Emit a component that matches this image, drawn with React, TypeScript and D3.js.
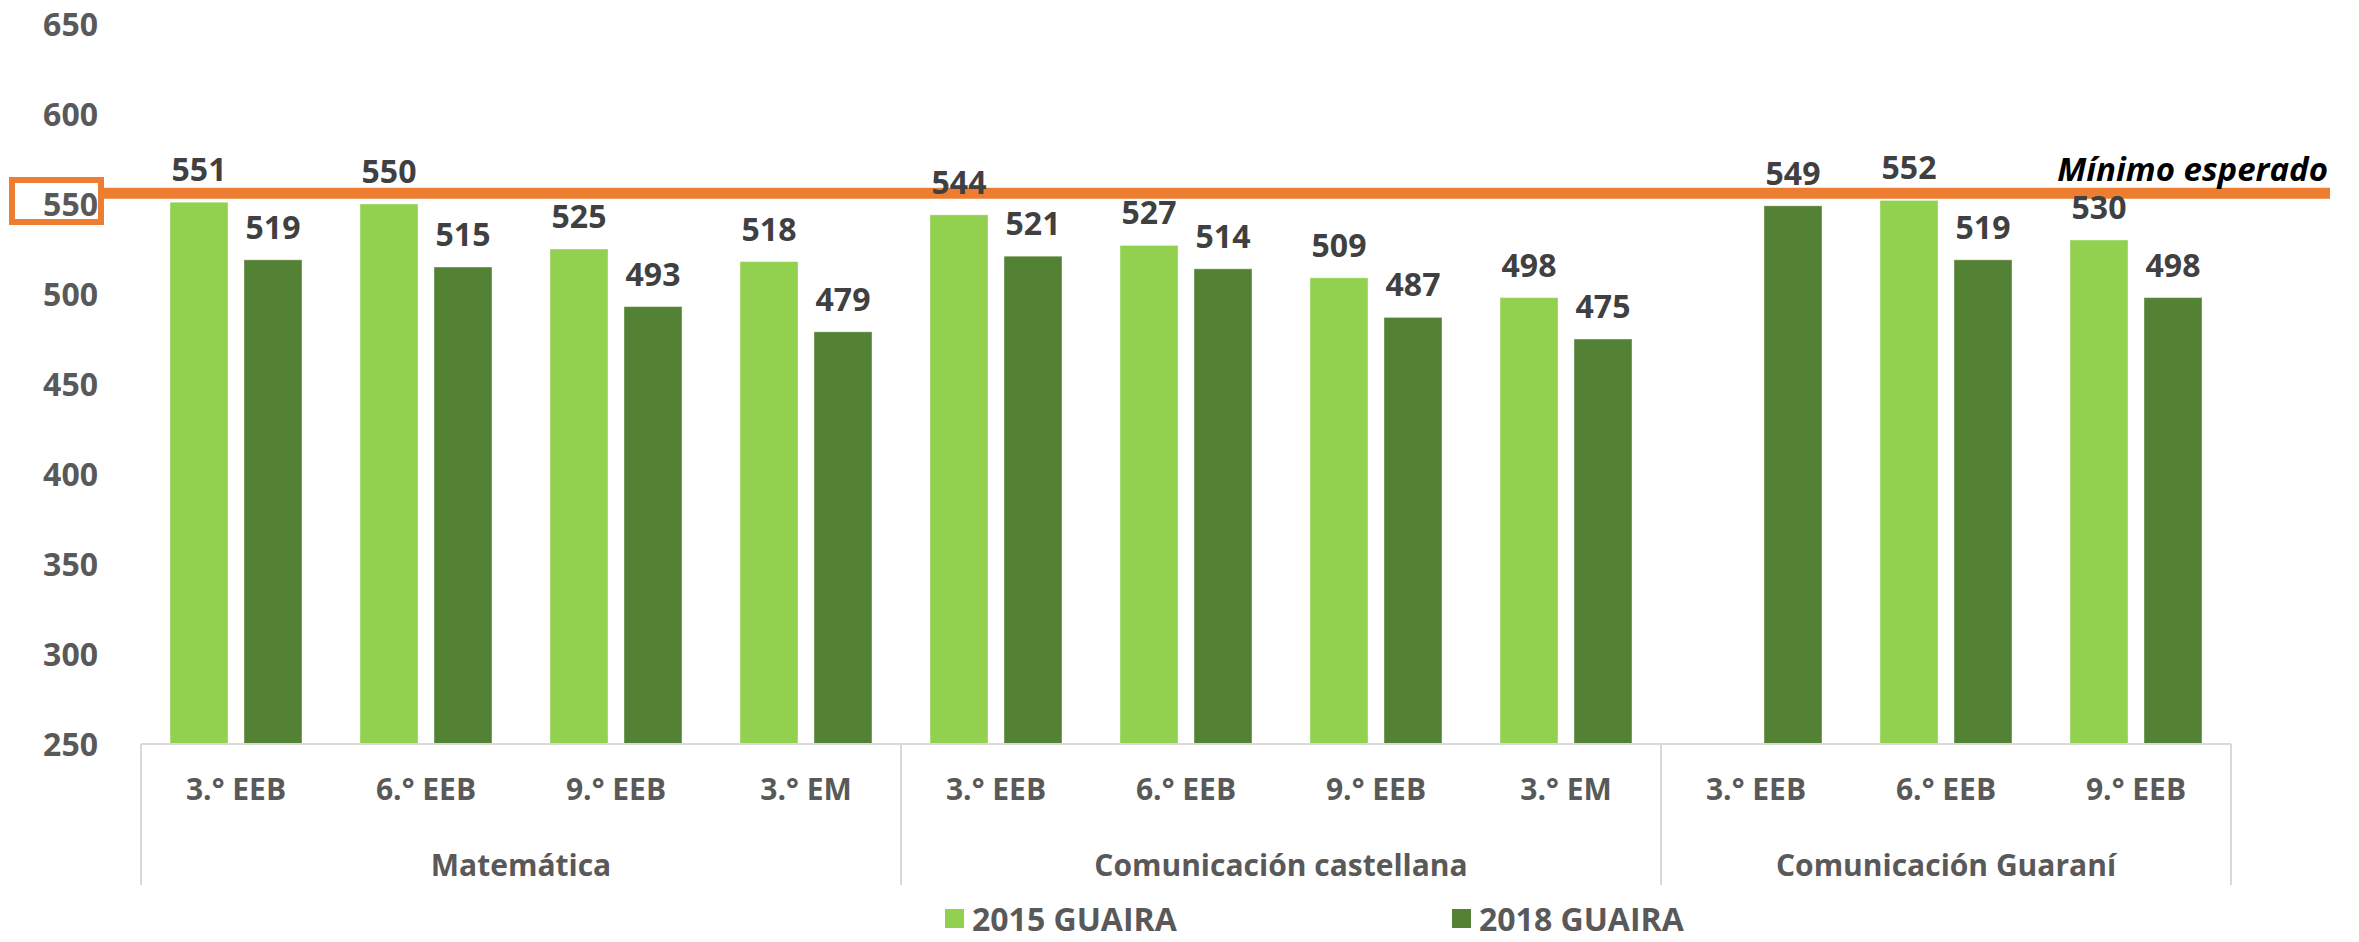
import * as d3 from 'd3';
import React, { useEffect, useRef } from 'react';

// categories grouped by subject
const groups = ['Matemática', 'Comunicación castellana', 'Comunicación Guaraní'];
const groupSizes = [4, 4, 3];
const grades = [
   '3.° EEB', '6.° EEB', '9.° EEB', '3.° EM',
   '3.° EEB', '6.° EEB', '9.° EEB', '3.° EM',
   '3.° EEB', '6.° EEB', '9.° EEB',
];
const series = ['2015 GUAIRA', '2018 GUAIRA'];
const values2015: (number | null)[] = [551, 550, 525, 518, 544, 527, 509, 498, null, 552, 530];
const values2018: (number | null)[] = [519, 515, 493, 479, 521, 514, 487, 475, 549, 519, 498];
const yTicks = [250, 300, 350, 400, 450, 500, 550, 600, 650];
const minimoEsperado = 556;

const colors = ['#92D050', '#548235'];
const FONT = '"Open Sans", sans-serif';

const App = () => {
   const ref = useRef<SVGSVGElement | null>(null);

   useEffect(() => {
      const svg = d3.select(ref.current);
      svg.selectAll('*').remove();

      const left = 141;
      const right = 2231;
      const top = 24;
      const bottom = 744;

      const keys = grades.map((_, i) => String(i));
      const x = d3.scaleBand<string>().domain(keys).range([left, right]).padding(0);
      const x1 = d3
         .scaleBand<string>()
         .domain(series)
         .range([0, x.bandwidth()])
         .paddingInner(0.216)
         .paddingOuter(0.392);
      const y = d3.scaleLinear().domain([250, 650]).range([bottom, top]);

      // y axis labels
      const yAxis = d3.axisLeft(y).tickValues(yTicks).tickSize(0).tickPadding(0);
      const ya = svg.append('g').attr('transform', `translate(98,0)`).call(yAxis);
      ya.select('.domain').remove();
      ya.selectAll('text')
         .attr('font-family', FONT)
         .attr('font-weight', 700)
         .attr('font-size', 32)
         .attr('fill', '#595959')
         .attr('dy', '0.36em');

      // bars
      const allValues = [values2015, values2018];
      allValues.forEach((vals, si) => {
         vals.forEach((v, i) => {
            if (v == null) return;
            const bx = (x(String(i)) ?? 0) + (x1(series[si]) ?? 0);
            svg.append('rect')
               .attr('x', bx)
               .attr('y', y(v))
               .attr('width', x1.bandwidth())
               .attr('height', y(250) - y(v))
               .attr('fill', colors[si])
               .attr('stroke', '#ffffff')
               .attr('stroke-opacity', 0.4)
               .attr('stroke-width', 1);
         });
      });

      // minimum line + highlight box
      const yMin = y(minimoEsperado);
      svg.append('line')
         .attr('x1', 104)
         .attr('x2', 2330)
         .attr('y1', yMin)
         .attr('y2', yMin)
         .attr('stroke', '#ED7D31')
         .attr('stroke-width', 11);
      svg.append('rect')
         .attr('x', 12)
         .attr('y', y(550) - 24)
         .attr('width', 89)
         .attr('height', 42)
         .attr('fill', 'none')
         .attr('stroke', '#ED7D31')
         .attr('stroke-width', 6);
      svg.append('text')
         .attr('x', 2328)
         .attr('y', yMin - 12)
         .attr('text-anchor', 'end')
         .attr('font-family', FONT)
         .attr('font-weight', 700)
         .attr('font-style', 'italic')
         .attr('font-size', 33)
         .attr('fill', '#000000')
         .text('Mínimo esperado');

      // data labels
      allValues.forEach((vals, si) => {
         vals.forEach((v, i) => {
            if (v == null) return;
            const cx = (x(String(i)) ?? 0) + (x1(series[si]) ?? 0) + x1.bandwidth() / 2;
            svg.append('text')
               .attr('x', cx)
               .attr('y', y(v) - 21)
               .attr('text-anchor', 'middle')
               .attr('font-family', FONT)
               .attr('font-weight', 700)
               .attr('font-size', 32)
               .attr('fill', '#404040')
               .text(v);
         });
      });

      // x axis: baseline, separators, labels
      svg.append('line')
         .attr('x1', left)
         .attr('x2', right)
         .attr('y1', bottom)
         .attr('y2', bottom)
         .attr('stroke', '#d9d9d9')
         .attr('stroke-width', 2);

      let start = 0;
      const seps = [0];
      groupSizes.forEach((n) => {
         start += n;
         seps.push(start);
      });
      seps.forEach((s) => {
         const sx = s < keys.length ? (x(String(s)) ?? 0) : right;
         svg.append('line')
            .attr('x1', sx)
            .attr('x2', sx)
            .attr('y1', bottom)
            .attr('y2', 885)
            .attr('stroke', '#d9d9d9')
            .attr('stroke-width', 2);
      });

      grades.forEach((g, i) => {
         svg.append('text')
            .attr('x', (x(String(i)) ?? 0) + x.bandwidth() / 2)
            .attr('y', 800)
            .attr('text-anchor', 'middle')
            .attr('font-family', FONT)
            .attr('font-weight', 700)
            .attr('font-size', 30)
            .attr('fill', '#595959')
            .text(g);
      });

      groups.forEach((g, gi) => {
         const x0 = x(String(seps[gi])) ?? 0;
         const xEnd = seps[gi + 1] < keys.length ? (x(String(seps[gi + 1])) ?? 0) : right;
         svg.append('text')
            .attr('x', (x0 + xEnd) / 2)
            .attr('y', 876)
            .attr('text-anchor', 'middle')
            .attr('font-family', FONT)
            .attr('font-weight', 700)
            .attr('font-size', 30)
            .attr('fill', '#595959')
            .text(g);
      });

      // legend
      const legendX = [945, 1452];
      series.forEach((s, si) => {
         svg.append('rect')
            .attr('x', legendX[si])
            .attr('y', 909)
            .attr('width', 19)
            .attr('height', 19)
            .attr('fill', colors[si]);
         svg.append('text')
            .attr('x', legendX[si] + 27)
            .attr('y', 931)
            .attr('font-family', FONT)
            .attr('font-weight', 700)
            .attr('font-size', 32)
            .attr('fill', '#595959')
            .text(s);
      });
   }, []);

   return (
      <div style={{ position: 'absolute', top: 0, left: 0, background: '#fff' }}>
         <svg ref={ref} width={2359} height={942} />
      </div>
   );
};

export default App;
